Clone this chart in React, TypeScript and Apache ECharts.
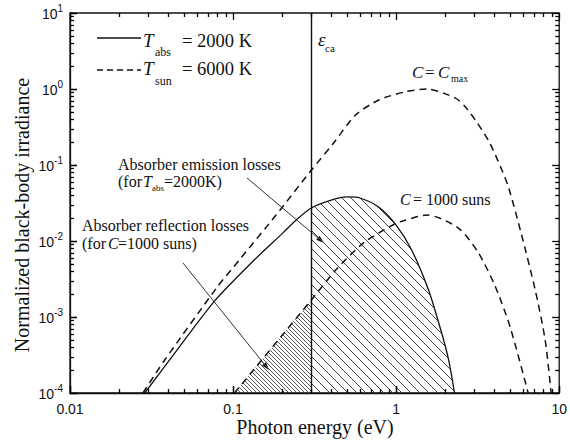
import React, { useEffect, useRef } from "react";
import * as echarts from "echarts";

// Absorber black body, T_abs = 2000 K (solid)
const absEnergy = [0.0287, 0.0407, 0.0769, 0.131, 0.2, 0.244, 0.3, 0.4, 0.5, 0.6, 0.78, 1.0, 1.245, 1.58, 1.9, 2.1, 2.28];
const absIrradiance = [1.0e-4, 2.7e-4, 1.62e-3, 5.3e-3, 0.0125, 0.0189, 0.027, 0.0345, 0.038, 0.0368, 0.028, 0.0162, 0.0076, 2.26e-3, 6.2e-4, 2.7e-4, 1.0e-4];

// Sun, T_sun = 6000 K at maximum concentration (dashed)
const sunEnergy = [0.028, 0.038, 0.08, 0.109, 0.183, 0.3, 0.41, 0.564, 0.783, 1.14, 1.55, 2.31, 2.65, 3.06, 3.68, 4.2, 4.87, 5.85, 7.13, 8.2, 8.92];
const sunCmax = [1.0e-4, 2.7e-4, 2.48e-3, 5.6e-3, 0.0218, 0.084, 0.19, 0.455, 0.716, 0.92, 1.0, 0.76, 0.585, 0.39, 0.21, 0.115, 0.052, 0.0125, 2.26e-3, 5.0e-4, 1.0e-4];

// Sun at C = 1000 suns (dashed)
const sun1000Energy = [0.102, 0.3, 0.433, 0.634, 0.966, 1.11, 1.55, 2.41, 3.2, 4.06, 5.0, 6.45];
const sun1000 = [1.0e-4, 1.65e-3, 4.3e-3, 9.5e-3, 0.0165, 0.0185, 0.022, 0.0148, 6.95e-3, 2.5e-3, 7.4e-4, 1.0e-4];

// Absorber cut-off energy
const cutoffEnergy = 0.3;

// Axis ranges and tick labels
const xMin = 0.01;
const xMax = 10;
const yMin = 1e-4;
const yMax = 10;
const xTickLabels = ["0.01", "0.1", "1", "10"];
const yTickExponents = ["-4", "-3", "-2", "-1", "0", "1"];

const SERIF = "Liberation Serif";
const SANS = "Liberation Sans";
const INK = "#111";

function pairs(xs: number[], ys: number[]) {
  return xs.map((x, i) => [x, ys[i]]);
}

function hatchTile(step: number, color: string, width: number) {
  const c = document.createElement("canvas");
  c.width = step;
  c.height = step;
  const ctx = c.getContext("2d")!;
  ctx.strokeStyle = color;
  ctx.lineWidth = width;
  ctx.beginPath();
  for (const o of [-step, 0, step]) {
    ctx.moveTo(o, 0);
    ctx.lineTo(o + step, step);
  }
  ctx.stroke();
  return { image: c, repeat: "repeat", imageWidth: step, imageHeight: step };
}

// tick values of a log axis: decades (long) and 2..9 in between (short)
function logTicks(minExp: number, maxExp: number) {
  const out: number[][] = [];
  for (let d = minExp; d <= maxExp; d++) {
    out.push([Math.pow(10, d), 7]);
    if (d < maxExp) for (let m = 2; m <= 9; m++) out.push([m * Math.pow(10, d), 4]);
  }
  return out;
}

function txt(x: number, y: number, text: string, size: number, opts: any = {}) {
  return {
    type: "text",
    x,
    y,
    rotation: opts.rotation || 0,
    silent: true,
    style: {
      text,
      fill: INK,
      fontSize: size,
      fontFamily: opts.family || SERIF,
      fontStyle: opts.italic ? "italic" : "normal",
      textAlign: opts.align || "left",
      textVerticalAlign: "middle",
      verticalAlign: "middle",
    },
  };
}

function arrow(x1: number, y1: number, x2: number, y2: number) {
  const dx = x2 - x1;
  const dy = y2 - y1;
  const len = Math.hypot(dx, dy);
  const ux = dx / len;
  const uy = dy / len;
  const hl = 8;
  const hw = 2.6;
  const bx = x2 - ux * hl;
  const by = y2 - uy * hl;
  return [
    {
      type: "line",
      silent: true,
      shape: { x1, y1, x2: bx, y2: by },
      style: { stroke: "#333", lineWidth: 1 },
    },
    {
      type: "polygon",
      silent: true,
      shape: {
        points: [
          [x2, y2],
          [bx - uy * hw, by + ux * hw],
          [bx + uy * hw, by - ux * hw],
        ],
      },
      style: { fill: "#111" },
    },
  ];
}

export default function App() {
  const ref = useRef<HTMLDivElement>(null);

  useEffect(() => {
    if (!ref.current) return;
    const chart = echarts.init(ref.current, null, { renderer: "svg" });

    const absData = pairs(absEnergy, absIrradiance);
    const cmaxData = pairs(sunEnergy, sunCmax);
    const c1000Data = pairs(sun1000Energy, sun1000);
    const emissionData = absData.filter((p) => p[0] >= cutoffEnergy);
    const reflectionData = c1000Data.filter((p) => p[0] <= cutoffEnergy);

    const emissionHatch = hatchTile(9, "#444", 1);
    const reflectionHatch = hatchTile(4, "#444", 0.9);

    const curve = (name: string, data: number[][], dashed: boolean) => ({
      name,
      type: "line",
      data,
      smooth: 0.25,
      symbol: "none",
      silent: true,
      z: 5,
      lineStyle: { color: INK, width: dashed ? 1.5 : 1.3, type: dashed ? [7, 5] : "solid" },
    });

    const area = (name: string, data: number[][], pattern: any) => ({
      name,
      type: "line",
      data,
      smooth: 0.25,
      symbol: "none",
      silent: true,
      z: 2,
      lineStyle: { width: 0, opacity: 0 },
      areaStyle: { color: pattern, opacity: 1, origin: yMin },
    });

    // inward ticks on both opposite sides of the frame
    const tickStroke = { stroke: "#000", lineWidth: 1.3 };
    const xTickSeries = {
      type: "custom",
      silent: true,
      clip: false,
      z: 10,
      data: logTicks(-2, 1).map(([v, len]) => [v, yMin, len]),
      renderItem: (_p: any, api: any) => {
        const v = api.value(0);
        const len = api.value(2);
        const b = api.coord([v, yMin]);
        const t = api.coord([v, yMax]);
        const x = Math.round(b[0]) + 0.5;
        return {
          type: "group",
          children: [
            { type: "line", shape: { x1: x, y1: b[1], x2: x, y2: b[1] - len }, style: { ...tickStroke } },
            { type: "line", shape: { x1: x, y1: t[1], x2: x, y2: t[1] + len }, style: { ...tickStroke } },
          ],
        };
      },
    };
    const yTickSeries = {
      type: "custom",
      silent: true,
      clip: false,
      z: 10,
      data: logTicks(-4, 1).map(([v, len]) => [xMin, v, len]),
      renderItem: (_p: any, api: any) => {
        const v = api.value(1);
        const len = api.value(2);
        const l = api.coord([xMin, v]);
        const r = api.coord([xMax, v]);
        const y = Math.round(l[1]) + 0.5;
        return {
          type: "group",
          children: [
            { type: "line", shape: { x1: l[0], y1: y, x2: l[0] + len, y2: y }, style: { ...tickStroke } },
            { type: "line", shape: { x1: r[0], y1: y, x2: r[0] - len, y2: y }, style: { ...tickStroke } },
          ],
        };
      },
    };

    const graphic: any[] = [
      // legend
      { type: "line", silent: true, shape: { x1: 97, y1: 38, x2: 141, y2: 38 }, style: { stroke: INK, lineWidth: 1.3 } },
      txt(143, 40.5, "T", 19, { italic: true }),
      txt(155, 52, "abs", 12),
      txt(182, 40.5, "= 2000 K", 18.5),
      { type: "line", silent: true, shape: { x1: 97, y1: 70, x2: 141, y2: 70 }, style: { stroke: INK, lineWidth: 1.3, lineDash: [6, 4] } },
      txt(143, 68.5, "T", 19, { italic: true }),
      txt(155, 80.5, "sun", 12),
      txt(182, 68.5, "= 6000 K", 18.5),
      // cut-off label
      txt(318, 39, "ε", 19, { italic: true }),
      txt(325, 47.5, "ca", 11),
      // curve labels
      txt(412, 72, "C", 17, { italic: true }),
      txt(425, 72, "=", 17),
      txt(438, 72, "C", 17, { italic: true }),
      txt(451, 78, "max", 10),
      txt(400, 199.5, "C", 16, { italic: true }),
      txt(413, 199.5, "= 1000 suns", 16),
      // region annotations
      txt(118, 164.7, "Absorber emission losses", 16),
      txt(118, 181.7, "(for", 16),
      txt(143, 181.7, "T", 16, { italic: true }),
      txt(152, 187.5, "abs", 9),
      txt(164, 181.7, "=2000K)", 16),
      txt(82, 225.7, "Absorber reflection losses", 16),
      txt(82, 243.7, "(for", 16),
      txt(108, 243.7, "C", 16, { italic: true }),
      txt(118, 243.7, "=1000 suns)", 16),
      ...arrow(247, 178, 324, 243),
      ...arrow(183, 263, 269, 370),
      // axis titles
      txt(315, 427, "Photon energy (eV)", 20, { align: "center" }),
      txt(22, 215, "Normalized black-body irradiance", 20, { align: "center", rotation: Math.PI / 2 }),
    ];

    chart.setOption({
      animation: false,
      grid: { left: 70, right: 9, top: 13, bottom: 54, show: true, borderColor: INK, borderWidth: 1.3, backgroundColor: "transparent" },
      xAxis: {
        type: "log",
        min: xMin,
        max: xMax,
        axisLine: { show: true, onZero: false, lineStyle: { color: INK, width: 1.3 } },
        axisTick: { show: true, inside: true, length: 7, lineStyle: { color: "#000", width: 1.3 } },
        splitLine: { show: false },
        axisLabel: {
          margin: 9,
          color: INK,
          fontSize: 14,
          fontFamily: SANS,
          formatter: (v: number) => xTickLabels[Math.round(Math.log10(v)) + 2] ?? "",
        },
      },
      yAxis: {
        type: "log",
        min: yMin,
        max: yMax,
        axisLine: { show: true, onZero: false, lineStyle: { color: INK, width: 1.3 } },
        axisTick: { show: true, inside: true, length: 7, lineStyle: { color: "#000", width: 1.3 } },
        splitLine: { show: false },
        axisLabel: {
          margin: 7,
          formatter: (v: number) => `{b|10}{s|${yTickExponents[Math.round(Math.log10(v)) + 4] ?? ""}}`,
          rich: {
            b: { fontSize: 14, fontFamily: SANS, color: INK, verticalAlign: "bottom", lineHeight: 16 },
            s: { fontSize: 10, fontFamily: SANS, color: INK, verticalAlign: "bottom", lineHeight: 10, padding: [0, 0, 8, 0] },
          },
        },
      },
      series: [
        area("Absorber emission losses", emissionData, emissionHatch),
        area("Absorber reflection losses", reflectionData, reflectionHatch),
        {
          ...curve("T_abs = 2000 K", absData, false),
          markLine: {
            silent: true,
            symbol: ["none", "none"],
            label: { show: false },
            lineStyle: { color: INK, width: 1.4, type: "solid" },
            data: [{ xAxis: cutoffEnergy }],
          },
        },
        curve("C = Cmax", cmaxData, true),
        curve("C = 1000 suns", c1000Data, true),
        xTickSeries,
        yTickSeries,
      ],
      graphic,
    });

    return () => chart.dispose();
  }, []);

  return (
    <div
      ref={ref}
      style={{ position: "fixed", left: 0, top: 0, width: 570, height: 447, background: "#fff" }}
    />
  );
}
